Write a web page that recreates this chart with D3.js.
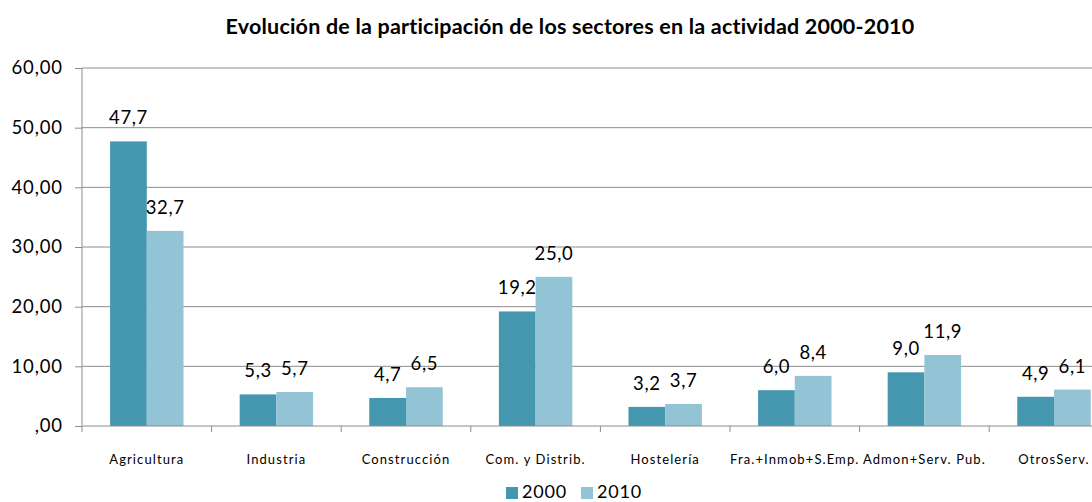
<!DOCTYPE html>
<html>
<head>
<meta charset="utf-8">
<script src="https://cdn.jsdelivr.net/npm/d3@7"></script>
<style>
  html, body { margin: 0; padding: 0; background: #fff; }
  svg { display: block; }
</style>
</head>
<body>
<svg id="chart" width="1092" height="502"></svg>
<script>
// Sector shares of activity, 2000 vs 2010
const categories = ["Agricultura", "Industria", "Construcción", "Com. y Distrib.", "Hostelería", "Fra.+Inmob+S.Emp.", "Admon+Serv. Pub.", "OtrosServ."];
const values2000 = [47.7, 5.3, 4.7, 19.2, 3.2, 6.0, 9.0, 4.9];
const values2010 = [32.7, 5.7, 6.5, 25.0, 3.7, 8.4, 11.9, 6.1];
const seriesNames = ["2000", "2010"];
const yTicks = [0, 10, 20, 30, 40, 50, 60];
const title = "Evolución de la participación de los sectores en la actividad 2000-2010";

const colors = ["#4597AF", "#93C4D6"];
const font = "Lato, 'Open Sans', sans-serif";

const svg = d3.select("#chart");
const plotLeft = 82, plotTop = 68, plotBottom = 426;
const bandW = 129.6;
const plotRight = plotLeft + bandW * categories.length;

const x = d3.scaleBand().domain(categories).range([plotLeft, plotRight]).paddingInner(0).paddingOuter(0);
const barW = bandW / 3.53;
const xs = d3.scaleBand().domain(seriesNames).range([0, barW * 2]);
const y = d3.scaleLinear().domain([0, 60]).range([plotBottom, plotTop]);

const fmtTick = v => v === 0 ? ",00" : d3.format(".2f")(v).replace(".", ",");
const fmtVal = v => d3.format(".1f")(v).replace(".", ",");

// Title
svg.append("text")
  .attr("x", 570).attr("y", 34)
  .attr("text-anchor", "middle")
  .attr("font-family", font).attr("font-weight", "bold").attr("font-size", 21.5)
  .attr("letter-spacing", 0.2)
  .attr("fill", "#000")
  .text(title);

// Horizontal gridlines
svg.append("g").selectAll("line").data(yTicks.filter(d => d > 0)).join("line")
  .attr("x1", plotLeft).attr("x2", plotRight)
  .attr("y1", d => y(d)).attr("y2", d => y(d))
  .attr("stroke", "#8c8c8c").attr("stroke-width", 1);

// Bars and value labels
const series = [values2000, values2010];
const groups = svg.append("g").selectAll("g").data(categories).join("g")
  .attr("transform", d => `translate(${x(d) + (bandW - barW * 2) / 2},0)`);

groups.each(function(cat, i) {
  const g = d3.select(this);
  seriesNames.forEach((s, k) => {
    const v = series[k][i];
    g.append("rect")
      .attr("x", xs(s)).attr("width", xs.bandwidth())
      .attr("y", y(v)).attr("height", y(0) - y(v))
      .attr("fill", colors[k]);
    g.append("text")
      .attr("x", xs(s) + xs.bandwidth() / 2)
      .attr("y", y(v) - 17)
      .attr("text-anchor", "middle")
      .attr("font-family", font).attr("font-size", 18.5).attr("letter-spacing", 0.6)
      .attr("fill", "#000")
      .text(fmtVal(v));
  });
});

// Y axis
const yAxis = d3.axisLeft(y).tickValues(yTicks).tickFormat(fmtTick).tickSize(7).tickPadding(12);
const yg = svg.append("g").attr("transform", `translate(${plotLeft},0)`).call(yAxis);
yg.select(".domain").attr("stroke", "#8c8c8c").attr("d", `M0,${plotTop}V${plotBottom}`);
yg.selectAll(".tick line").attr("stroke", "#8c8c8c");
yg.selectAll(".tick text").attr("font-family", font).attr("font-size", 18.5).attr("letter-spacing", 0.9).attr("fill", "#000");

// X axis
const xg = svg.append("g").attr("transform", `translate(0,${plotBottom})`);
xg.append("line").attr("x1", plotLeft).attr("x2", plotRight).attr("y1", 0).attr("y2", 0).attr("stroke", "#8c8c8c");
xg.selectAll("line.tk").data(d3.range(categories.length + 1)).join("line")
  .attr("class", "tk")
  .attr("x1", d => plotLeft + d * bandW).attr("x2", d => plotLeft + d * bandW)
  .attr("y1", 0).attr("y2", 6)
  .attr("stroke", "#8c8c8c");
xg.selectAll("text").data(categories).join("text")
  .attr("x", d => x(d) + bandW / 2).attr("y", 38)
  .attr("text-anchor", "middle")
  .attr("font-family", font).attr("font-size", 13).attr("letter-spacing", 1.1)
  .attr("fill", "#000")
  .text(d => d);

// Legend
const legend = svg.append("g");
const legendItems = [{ name: seriesNames[0], x: 506 }, { name: seriesNames[1], x: 581 }];
legendItems.forEach((it, k) => {
  legend.append("rect").attr("x", it.x).attr("y", 487).attr("width", 12).attr("height", 12).attr("fill", colors[k]);
  legend.append("text").attr("x", it.x + 16).attr("y", 498)
    .attr("font-family", font).attr("font-size", 18).attr("letter-spacing", 0.8).attr("fill", "#000")
    .text(it.name);
});
</script>
</body>
</html>
